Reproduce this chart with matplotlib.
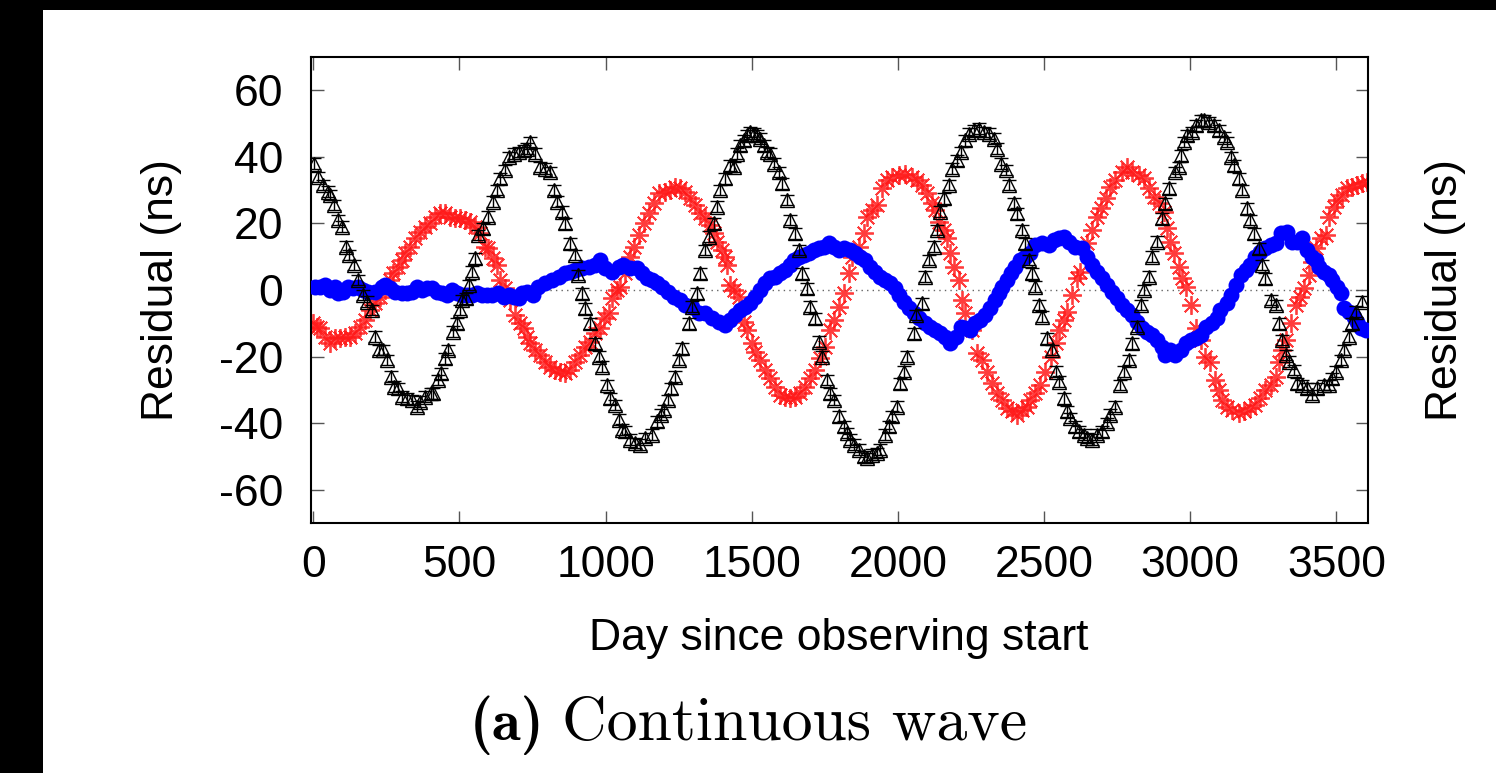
import os
import matplotlib
matplotlib.use("Agg")
import matplotlib.pyplot as plt
from matplotlib.patches import Rectangle
from matplotlib.font_manager import FontProperties

# ---------------- data ----------------
black_day = [3, 17, 34, 49, 57, 72, 86, 97, 111, 122, 140, 154, 171, 183, 200, 211, 225, 240, 251, 266,
             277, 291, 305, 320, 337, 354, 365, 382, 403, 411, 426, 437, 451, 462, 479, 491, 502, 508, 521,
             531, 542, 553, 565, 582, 596, 616, 628, 639, 656, 668, 685, 702, 719, 730, 742, 759, 776, 793,
             810, 822, 833, 850, 862, 879, 894, 907, 919, 930, 947, 962, 978, 987, 1004, 1016, 1033, 1044,
             1056, 1067, 1084, 1101, 1118, 1135, 1158, 1175, 1190, 1200, 1212, 1225, 1238, 1250, 1261, 1284,
             1295, 1312, 1324, 1341, 1352, 1369, 1381, 1392, 1409, 1427, 1438, 1449, 1461, 1472, 1484, 1495,
             1506, 1518, 1529, 1541, 1552, 1563, 1575, 1592, 1603, 1620, 1632, 1649, 1660, 1672, 1689, 1700,
             1717, 1729, 1740, 1757, 1769, 1780, 1797, 1814, 1826, 1837, 1849, 1866, 1883, 1894, 1911, 1928,
             1940, 1957, 1969, 1980, 1997, 2008, 2020, 2031, 2054, 2060, 2082, 2094, 2105, 2122, 2134, 2145,
             2157, 2174, 2185, 2202, 2214, 2231, 2242, 2259, 2276, 2293, 2311, 2328, 2339, 2351, 2368, 2379,
             2396, 2408, 2425, 2436, 2448, 2460, 2470, 2482, 2493, 2510, 2527, 2539, 2550, 2567, 2579, 2590,
             2607, 2619, 2636, 2647, 2664, 2681, 2698, 2716, 2727, 2744, 2761, 2773, 2790, 2801, 2818, 2830,
             2841, 2858, 2870, 2887, 2904, 2915, 2927, 2949, 2961, 2967, 2978, 2989, 3006, 3018, 3035, 3046,
             3064, 3081, 3098, 3115, 3126, 3138, 3149, 3166, 3178, 3195, 3206, 3218, 3235, 3246, 3257, 3275,
             3292, 3303, 3315, 3326, 3337, 3354, 3366, 3383, 3400, 3417, 3434, 3457, 3474, 3486, 3497, 3514,
             3526, 3543, 3554, 3566, 3588]
black_res = [38, 34, 31.5, 29.5, 28.5, 25.5, 21, 19, 13, 10.5, 7.5, 3, -1.5, -3.5, -6, -14, -18, -18, -21, -26,
             -29, -29.5, -32, -32.5, -33, -35, -33.5, -32, -31, -31, -27, -25, -20.5, -18, -12.5, -10, -6, -3, -2.5,
             1.5, 5.5, 9.5, 16.5, 18.5, 22, 26.5, 30, 33.5, 36, 40, 41, 41.5, 42, 42.5, 44.5, 41, 37, 36.5,
             35.5, 30, 26.5, 23.5, 20, 14, 10.5, 4.5, -1, -5.5, -10, -16, -20, -23, -28.5, -32.5, -34.5, -39,
             -42, -42.5, -45, -46, -46.5, -44.5, -43.5, -39.5, -37.5, -36, -33, -29.5, -26, -21, -17.5, -10,
             -5, -1, 5, 12, 16, 20, 25, 30, 33.5, 37.5, 37, 41, 43.5, 45, 46.5, 47.5,
             47, 46.5, 45.5, 43.5, 41.5, 41, 38, 35.5, 32, 27, 21, 17, 12, 5, 0.5, -5,
             -8.5, -15.5, -20, -27, -31, -33, -38, -41, -43, -45, -46.5, -48, -50, -50.5, -49.5, -49,
             -48, -43.5, -41, -38, -35, -28, -24.5, -20, -13, -7.5, -4, 4, 9, 13, 18, 23.5,
             27.5, 31.5, 36.5, 39, 41.5, 45, 47, 48, 48.5, 47.5, 47, 45.5, 42.5, 38, 36, 31.5,
             26, 23, 18, 14, 9, 5, 1, -4.5, -8, -14.5, -18, -24.5, -27.5, -32.5, -36.5, -38.5,
             -41, -42.5, -43.5, -44.5, -45, -43.5, -42.5, -40, -37.5, -35, -28.5, -24.5, -21, -16, -11, -4.5,
             0, 4, 10, 14.5, 21.5, 26, 30.5, 35.5, 37, 40.5, 44.5, 46.5, 47.5, 49.5, 51, 51,
             50.5, 49.5, 48, 46, 44.5, 40, 37.5, 33.5, 30, 24.5, 21, 17, 12.5, 7.5, 3.5, -3,
             -4.5, -10, -15, -19.5, -21.5, -24, -28, -28.5, -29.5, -31.5, -29.5, -28.5, -28.5, -26.5, -24.5, -21,
             -18, -14, -10, -6.5, -3.5]

red_day = [0, 12, 23, 40, 57, 74, 91, 108, 126, 143, 160, 177, 194, 211, 228, 245, 263, 274, 291, 302,
           314, 331, 348, 365, 382, 400, 417, 434, 451, 468, 485, 502, 519, 536, 553, 570, 588, 599, 616,
           628, 639, 656, 673, 691, 708, 719, 730, 742, 759, 776, 793, 810, 827, 845, 862, 879, 896, 913,
           930, 947, 964, 981, 993, 1010, 1021, 1038, 1050, 1067, 1084, 1096, 1113, 1130, 1147, 1164, 1181,
           1204, 1221, 1238, 1255, 1272, 1290, 1307, 1324, 1341, 1358, 1369, 1381, 1398, 1409, 1415, 1427,
           1438, 1455, 1472, 1484, 1501, 1512, 1529, 1546, 1563, 1580, 1598, 1615, 1632, 1649, 1666, 1683,
           1700, 1717, 1735, 1752, 1769, 1780, 1797, 1814, 1831, 1843, 1866, 1883, 1894, 1911, 1928, 1945,
           1963, 1980, 2003, 2025, 2048, 2065, 2082, 2100, 2117, 2128, 2139, 2157, 2168, 2179, 2191, 2208,
           2219, 2231, 2254, 2271, 2288, 2305, 2322, 2339, 2356, 2373, 2391, 2408, 2425, 2440, 2453, 2470,
           2487, 2504, 2522, 2539, 2550, 2567, 2579, 2596, 2613, 2624, 2647, 2664, 2681, 2693, 2710, 2727,
           2744, 2767, 2784, 2801, 2824, 2841, 2858, 2875, 2892, 2909, 2921, 2932, 2944, 2961, 2972, 2984,
           3001, 3018, 3035, 3052, 3069, 3086, 3098, 3109, 3126, 3143, 3166, 3183, 3206, 3223, 3240, 3257,
           3275, 3292, 3303, 3315, 3326, 3343, 3360, 3377, 3389, 3406, 3417, 3429, 3446, 3463, 3474, 3491,
           3503, 3520, 3537, 3554, 3571, 3588, 3603]
red_res = [-10, -11, -11.5, -14, -16, -14.5, -14.5, -14, -14, -13, -11, -9, -6, -4, -2, 0, 3, 5, 7, 9,
           11, 13, 15.5, 17.5, 19, 20, 22, 23, 23, 22, 21.5, 21.5, 21, 20.5, 19, 17, 13, 12.5, 9.5,
           7.5, 3, 0.5, -3, -7.5, -10, -11.5, -14, -16, -18, -19.5, -21.5, -23, -24, -24.5, -25, -24, -21.5, -19.5,
           -17, -15.5, -13, -11.5, -8.5, -7, -2.5, 0, 1, 5, 10, 13, 16.5, 20, 23, 26, 29,
           29.5, 30, 31, 30.5, 29.5, 27.5, 25.5, 23, 21.5, 19.5, 17, 14.5, 12, 10, 7.5, 1.5,
           0, -2, -9.5, -12, -16, -18.5, -21, -24, -26.5, -29, -31.5, -32, -32.5, -32, -31, -29,
           -26.5, -24, -20.5, -17, -12, -9, -5, -1, 5, 10, 13, 17, 22, 24, 25.5, 30.5,
           33, 34, 34.5, 35, 34, 33, 31.5, 29, 26, 24, 20.5, 18, 15.5, 11, 7, 3,
           -3, -7, -12, -19, -21, -24.5, -28, -31, -33, -35.5, -36.5, -37.5, -36, -35, -33, -31,
           -28.5, -24.5, -20, -16, -12, -9, -6.5, -1.5, 3.5, 5.5, 14, 18, 22, 24.5, 27.5, 31,
           33, 35.5, 37, 35.5, 34.5, 33.5, 30.5, 28, 26, 23.5, 18.5, 14.5, 11, 7, 3.5, 1,
           -4.5, -11.5, -15, -20, -21.5, -27, -30, -33, -35, -36, -37, -36.5, -35.5, -34.5, -32.5, -30,
           -28.5, -26, -21.5, -18, -15, -10, -4.5, -2, 0.5, 4.5, 8.5, 12.5, 15.5, 16.5, 22, 25,
           27, 28.5, 30.5, 31, 31.5, 32, 32.5]

blue_day = [6, 23, 40, 57, 74, 86, 103, 120, 137, 154, 171, 188, 211, 234, 245, 263, 280, 302, 320, 337,
            354, 371, 388, 405, 422, 439, 457, 474, 491, 508, 525, 542, 559, 576, 593, 611, 633, 651, 668,
            685, 702, 713, 730, 753, 770, 793, 816, 839, 862, 879, 896, 919, 942, 964, 981, 999, 1021, 1044,
            1061, 1084, 1107, 1124, 1141, 1158, 1176, 1193, 1212, 1233, 1255, 1272, 1295, 1318, 1341, 1364,
            1387, 1409, 1427, 1444, 1461, 1478, 1495, 1512, 1529, 1546, 1563, 1581, 1598, 1615, 1632, 1643,
            1660, 1677, 1695, 1712, 1729, 1746, 1763, 1780, 1797, 1814, 1837, 1854, 1871, 1888, 1906, 1923,
            1940, 1957, 1974, 1991, 2003, 2020, 2037, 2054, 2071, 2094, 2111, 2128, 2145, 2162, 2179, 2197,
            2214, 2231, 2248, 2265, 2282, 2299, 2316, 2333, 2345, 2356, 2373, 2385, 2402, 2419, 2436, 2453,
            2470, 2493, 2516, 2533, 2550, 2567, 2584, 2607, 2630, 2647, 2664, 2681, 2698, 2716, 2733, 2750,
            2767, 2784, 2801, 2818, 2835, 2852, 2870, 2887, 2904, 2915, 2932, 2949, 2967, 2984, 3001, 3018,
            3035, 3055, 3075, 3092, 3103, 3126, 3138, 3155, 3172, 3189, 3206, 3223, 3240, 3257, 3275, 3292,
            3309, 3332, 3349, 3366, 3383, 3400, 3417, 3429, 3440, 3457, 3474, 3486, 3503, 3514, 3526, 3543,
            3560, 3571, 3583, 3600]
blue_res = [1, 1, 1.5, 0, 1, -1, -0.5, 1, 0.5, 1, 0, -0.5, -0.5, 1, 1.5, 0.5, -0.5, -1, -1, -0.5,
            1, 0, 0.5, 0.5, -0.5, -1, -1.5, 0, -1, -1.5, -1.5, -1.5, -1, -1.5, -1.5, -1.5, -1, -2, -1.5,
            -2, -2.5, -1, -0.5, -1.5, 1, 2, 3, 4, 5, 5.5, 6, 6.5, 7, 7.5, 9, 6.5, 5.5, 7,
            7.5, 6.5, 6.5, 5, 3.5, 3, 2, 1, -0.5, -2, -3, -4.5, -5, -7, -7, -8.5,
            -9.5, -10.5, -9, -7.5, -6, -5, -4, -2, 0, 2, 3.5, 4, 5, 6, 7.5, 9,
            10, 10.5, 11, 12, 12.5, 13, 14, 13, 12, 12.5, 12, 11, 10, 9, 7, 5.5,
            4, 3, 2, 0.5, -1.5, -3.5, -5.5, -7, -8.5, -10, -11, -12, -13, -14, -16, -14,
            -11, -11.5, -12, -10, -9, -7.5, -5.5, -3, -1, 1, 3, 5, 7, 9, 10, 11,
            13.5, 14, 13.5, 15, 15.5, 16, 14.5, 13, 12.5, 10, 7.5, 5.5, 3.5, 1.5, -0.5, -2.5,
            -4.5, -6, -7.5, -9.5, -11.5, -12.5, -13.5, -15, -17, -19.5, -18, -19.5, -18, -16, -15, -14.5,
            -13.5, -11, -10, -8.5, -6, -4, -1.5, 1.5, 4.5, 6, 7.5, 10, 11.5, 12.5, 13.5, 14,
            17, 17.5, 14.5, 14.5, 15.5, 12, 10, 9, 7, 5.5, 4.5, 3, 1, -1, -5.5, -6.5,
            -8, -9.5, -11.5, -12]

x_ticks = [0, 500, 1000, 1500, 2000, 2500, 3000, 3500]
y_ticks = [-60, -40, -20, 0, 20, 40, 60]

# ---------------- figure ----------------
plt.rcParams['font.family'] = ['Liberation Sans', 'DejaVu Sans']

W, H = 1496, 773
fig = plt.figure(figsize=(W / 100, H / 100), dpi=100)
fig.patch.set_facecolor('white')

# black borders (top & left) of the screenshot
fig.patches.append(Rectangle((0, 0), 43 / W, 1, transform=fig.transFigure,
                             facecolor='black', edgecolor='none', zorder=0))
fig.patches.append(Rectangle((0, 1 - 10 / H), 1, 10 / H, transform=fig.transFigure,
                             facecolor='black', edgecolor='none', zorder=0))

ax = fig.add_axes([311 / W, 1 - 523 / H, 1057 / W, 466 / H])
ax.set_xlim(-8, 3608)
ax.set_ylim(-70, 70)

ax.axhline(0, color='#666666', lw=1.0, ls=(0, (1, 3)), zorder=1)

ax.plot(red_day, red_res, ls='none', marker=(8, 2, 0), ms=13.5, mew=1.3,
        color='#ff1a1a', alpha=0.85, zorder=2)
ax.plot(blue_day, blue_res, ls='none', marker='o', ms=11.5, mew=0,
        color='#0000ff', zorder=3)
ax.errorbar(black_day, black_res, yerr=1.6, fmt='none', ecolor='black',
            elinewidth=1.0, capsize=5, capthick=1.0, zorder=4)
ax.plot(black_day, black_res, ls='none', marker='^', ms=10.5, mew=1.0,
        mfc='none', mec='black', zorder=5)

ax.set_xticks(x_ticks)
ax.set_yticks(y_ticks)
ax.set_yticklabels([str(v) for v in y_ticks])
ax.tick_params(direction='in', length=9, width=1.0, color='#555555',
               top=True, right=True, labelsize=32, labelcolor='black')
ax.tick_params(axis='x', pad=16)
ax.tick_params(axis='y', pad=20)
for s in ax.spines.values():
    s.set_linewidth(1.5)
    s.set_color('black')

fig.text(839 / W, 1 - 650 / H, 'Day since observing start', ha='center',
         va='baseline', fontsize=32)
fig.text(161 / W, 1 - 290 / H, 'Residual (ns)', rotation=90, ha='center',
         va='center', fontsize=32)
fig.text(1445 / W, 1 - 290 / H, 'Residual (ns)', rotation=90, ha='center',
         va='center', fontsize=32)

# caption in Computer Modern (bold "(a)" + roman text)
ttf_dir = os.path.join(matplotlib.get_data_path(), 'fonts', 'ttf')
cm_bold = FontProperties(fname=os.path.join(ttf_dir, 'cmb10.ttf'), size=42.5)
cm_roman = FontProperties(fname=os.path.join(ttf_dir, 'cmr10.ttf'), size=44.5)
fig.text(470 / W, 1 - 740 / H, '(a)', fontproperties=cm_bold,
         ha='left', va='baseline')
fig.text(1027 / W, 1 - 740 / H, 'Continuous wave', fontproperties=cm_roman,
         ha='right', va='baseline')

fig.savefig('out.png', dpi=100, facecolor='white')
